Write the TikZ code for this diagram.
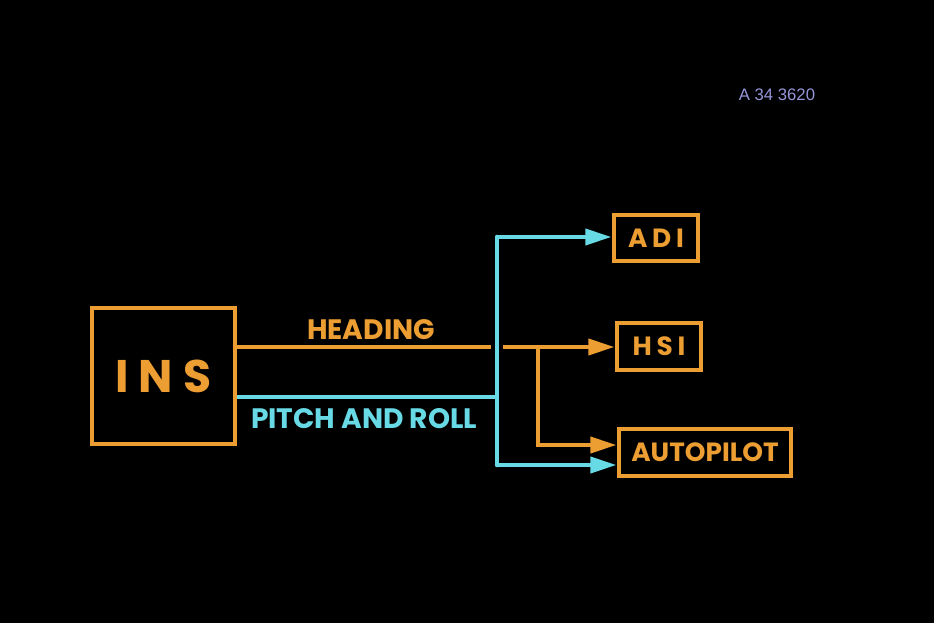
\documentclass[tikz,border=0pt]{standalone}
\usepackage{fontspec}
\setmainfont{Poppins}
\setsansfont{Liberation Sans}
\usetikzlibrary{arrows.meta,positioning,calc}
\definecolor{amber}{RGB}{236,158,50}
\definecolor{aqua}{RGB}{104,218,230}
\definecolor{lilac}{RGB}{150,150,218}
\tikzset{
  unitbox/.style={draw=amber,line width=2.7pt,text=amber,inner sep=0pt,align=center},
  headflow/.style={line width=2.6pt,amber},
  attflow/.style={line width=2.6pt,aqua},
  tip/.style={-{Triangle[length=15pt,width=9pt]}},
  halo/.style={line width=6.5pt,black},
  sig/.style={font=\bfseries\fontsize{16}{18}\selectfont},
  stamp/.style={font=\sffamily\fontsize{9.5}{11}\selectfont,text=lilac}
}

\begin{document}
\begin{tikzpicture}[x=0.02cm,y=-0.02cm]
  \fill[black] (0,0) rectangle (934,623);
  \useasboundingbox (0,0) rectangle (934,623);
  \node[unitbox,minimum width=2.86cm,minimum height=2.72cm,
    font=\bfseries\fontsize{26}{28}\selectfont\addfontfeatures{LetterSpace=22}] (ins) at (163.5,376) {INS};
  \node[unitbox,minimum width=1.68cm,minimum height=0.92cm,
    font=\bfseries\fontsize{15}{17}\selectfont\addfontfeatures{LetterSpace=18}] (adi) at (656,238) {ADI};
  \node[unitbox,minimum width=1.68cm,minimum height=0.94cm,
    font=\bfseries\fontsize{15}{17}\selectfont\addfontfeatures{LetterSpace=18}] (hsi) at (659,346.5) {HSI};
  \node[unitbox,minimum width=3.44cm,minimum height=0.94cm,
    font=\bfseries\fontsize{15}{17}\selectfont] (ap) at (705,452.5) {AUTOPILOT};
  \coordinate (hdg0) at ($(ins.east)+(0,-29)$);
  \coordinate (tee) at (497,397);
  \coordinate (top) at (497,237);
  \coordinate (bot) at (497,465);
  \coordinate (fork) at (hdg0 -| 538,0);
  \draw[headflow,tip] (hdg0) -- (hdg0 -| hsi.west);
  \draw[headflow,tip] (fork) |- ($(ap.west)+(0,-7.5)$);
  \draw[halo] ($(top)+(0,60)$) -- ($(bot)+(0,-60)$);
  \draw[attflow] ($(ins.east)+(0,21)$) -- (tee);
  \draw[attflow,line cap=round] (top) -- (bot);
  \draw[attflow,tip] (top) -- (top -| adi.west);
  \draw[attflow,tip] (bot) -- (bot -| ap.west);
  \node[sig,text=amber] (hdg) at (371,330) {HEADING};
  \node[sig,text=aqua] (pr) at (364,419) {PITCH AND ROLL};
  \node[stamp] (ref) at (777,95) {A 34 3620};
\end{tikzpicture}
\end{document}
